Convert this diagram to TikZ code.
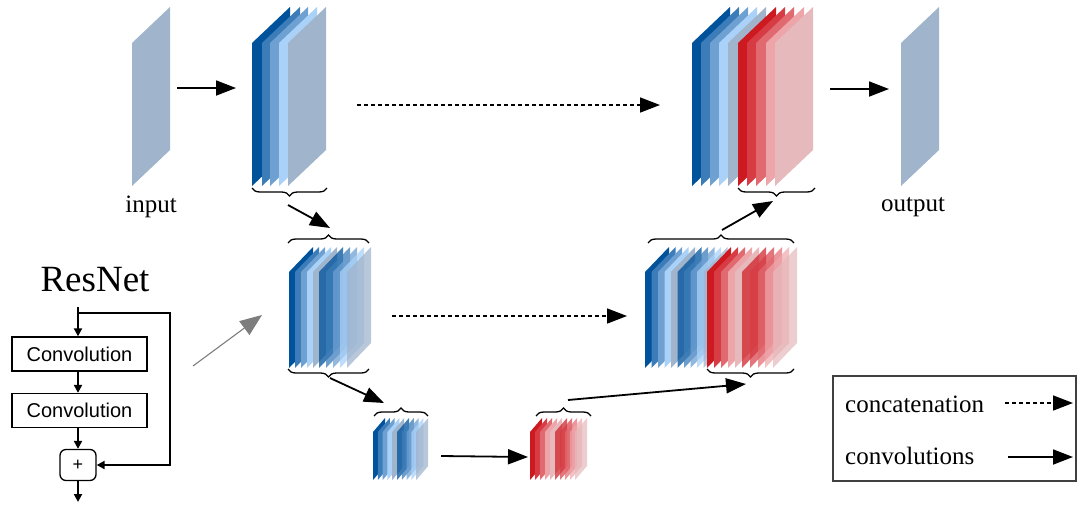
\documentclass[tikz,border=0pt]{standalone}
\usepackage{fontspec}
\setmainfont{Liberation Serif}
\newfontfamily\arialf{Liberation Sans}
\usetikzlibrary{arrows.meta,decorations.pathreplacing}
\definecolor{b1}{RGB}{0,82,155}
\definecolor{b2}{RGB}{60,125,185}
\definecolor{b3}{RGB}{110,160,210}
\definecolor{b4}{RGB}{170,210,248}
\definecolor{gb}{RGB}{160,180,204}
\definecolor{r1}{RGB}{205,25,32}
\definecolor{r2}{RGB}{215,60,68}
\definecolor{r3}{RGB}{225,105,112}
\definecolor{r4}{RGB}{238,165,170}
\definecolor{r5}{RGB}{230,185,188}
\definecolor{arrgrey}{RGB}{125,125,125}
\newcommand{\slab}[7]{\fill[fill=#6,fill opacity=#7] (#1,#2) -- ++(0,-#5) -- ++(#3,-#4) -- ++(0,#5) -- cycle;}
\tikzset{
  conv/.style={line width=1.8pt,-{Triangle[length=20pt,width=15pt]}},
  concat/.style={line width=1.6pt,dash pattern=on 4pt off 3pt,-{Triangle[length=20pt,width=15pt]}},
  brc/.style={decorate,decoration={brace,amplitude=8pt},line width=1.3pt},
  brcm/.style={decorate,decoration={brace,amplitude=8pt,mirror},line width=1.3pt},
  resline/.style={line width=2.6pt,-{Triangle[length=8pt,width=8pt]}},
  convbox/.style={draw,line width=1.3pt,minimum width=135pt,minimum height=34pt,inner sep=0pt,font=\arialf\fontsize{20}{22}\selectfont},
  lbl/.style={font=\fontsize{25}{29}\selectfont},
  leg/.style={font=\fontsize{25}{29}\selectfont,anchor=west,inner sep=0pt}
}
\begin{document}
\begin{tikzpicture}[x=1pt,y=-1pt]
\path[use as bounding box] (0,0) rectangle (1081,504);
% input / output slices
\slab{132}{186}{38}{36}{143}{gb}{1}
\slab{901}{186}{38}{36}{143}{gb}{1}
\node[lbl] (input) at (151,207) {input};
\node[lbl] (output) at (913,207) {output};
% encoder level 1
\foreach \xx/\cc in {252/b1,262/b2,270/b3,279/b4,288/gb} {\slab{\xx}{186}{38}{36}{143}{\cc}{1}}
% decoder level 1
\foreach \xx/\cc in {692/b1,701/b2,710/b3,719/b4,728/gb,738/r1,747/r2,756/r3,766/r4,775/r5} {\slab{\xx}{186}{38}{36}{143}{\cc}{1}}
% encoder level 2
\foreach \xx/\cc/\op in {289/b1/1,295/b2/1,301/b3/1,307/b4/1,313/gb/1,319/b1/.75,326/b2/.75,333/b3/.75,340/b4/.75,347/gb/.75} {\slab{\xx}{368}{24}{25}{96}{\cc}{\op}}
% decoder level 2
\foreach \xx/\cc/\op in {645/b1/1,651.5/b2/1,658/b3/1,664.5/b4/1,671/gb/1,677.5/b1/.75,684/b2/.75,690.5/b3/.75,697/b4/.75,703.5/gb/.75,
  707/r1/1,714/r2/1,721/r3/1,728/r4/1,735/r5/1,742/r1/.7,750/r2/.7,758/r3/.7,765/r4/.7,773/r5/.7} {\slab{\xx}{368}{24}{25}{96}{\cc}{\op}}
% level 3
\foreach \xx/\cc/\op in {373/b1/1,377.8/b2/1,382.6/b3/1,387.4/b4/1,392.2/gb/1,397/b1/.75,401.8/b2/.75,406.6/b3/.75,411.4/b4/.75,416.2/gb/.75} {\slab{\xx}{480}{12}{14}{48}{\cc}{\op}}
\foreach \xx/\cc/\op in {530/r1/1,535/r2/1,540/r3/1,545/r4/1,550/r5/1,555/r1/.7,560/r2/.7,565/r3/.7,570/r4/.7,575/r5/.7} {\slab{\xx}{480}{12}{14}{48}{\cc}{\op}}
% braces
\draw[brcm] (252,188) -- (327,188);
\draw[brcm] (738,188) -- (815,188);
\draw[brc] (288,243) -- (369,243);
\draw[brcm] (288,369) -- (369,369);
\draw[brc] (648,243) -- (794,243);
\draw[brcm] (707,369) -- (794,369);
\draw[brc] (374,416) -- (428,416);
\draw[brc] (536,416) -- (591,416);
% connector end points
\coordinate (inA) at (177,88);   \coordinate (e1A) at (236,88);
\coordinate (e1B) at (288,205);  \coordinate (e2A) at (330,228);
\coordinate (e2B) at (330,378);  \coordinate (e3A) at (384,403);
\coordinate (e3B) at (441,456);  \coordinate (r3A) at (528,457);
\coordinate (r3B) at (568,400);  \coordinate (d2A) at (746,384);
\coordinate (d2B) at (722,230);  \coordinate (d1A) at (773,201);
\coordinate (d1B) at (830,89);   \coordinate (outA) at (889,89);
\coordinate (c1B) at (357,105);  \coordinate (c1A) at (660,105);
\coordinate (c2B) at (392,316);  \coordinate (c2A) at (627,316);
\draw[conv] (inA) -- (e1A);
\draw[conv] (e1B) -- (e2A);
\draw[conv] (e2B) -- (e3A);
\draw[conv] (e3B) -- (r3A);
\draw[conv] (r3B) -- (d2A);
\draw[conv] (d2B) -- (d1A);
\draw[conv] (d1B) -- (outA);
\draw[concat] (c1B) -- (c1A);
\draw[concat] (c2B) -- (c2A);
% ResNet block
\node[font=\fontsize{37}{43}\selectfont] (resnet) at (95,280) {ResNet};
\node[convbox] (cv1) at (79.5,354) {Convolution};
\node[convbox] (cv2) at (79.5,410.5) {Convolution};
\node[draw,line width=1.3pt,rounded corners=6pt,minimum width=36pt,minimum height=31pt,inner sep=0pt,font=\arialf\fontsize{18}{20}\selectfont] (plus) at (78,465) {+};
\coordinate (rtop) at (78,307);
\coordinate (rsk) at (78,313);
\coordinate (rcorner) at (170,313);
\coordinate (rbot) at (78,502);
\draw[resline] (rtop) -- (rtop |- cv1.north);
\draw[resline] (cv1.south -| rtop) -- (cv2.north -| rtop);
\draw[resline] (cv2.south -| rtop) -- (plus.north);
\draw[resline] (plus.south) -- (rbot);
\draw[resline] (rsk) -- (rcorner) |- (plus.east);
\coordinate (gA) at (193,366); \coordinate (gB) at (262,315);
\draw[line width=1.1pt,arrgrey,-{Triangle[length=22pt,width=17pt]}] (gA) -- (gB);
% legend
\draw[line width=1.2pt,black!75] (833,376) rectangle (1076,481);
\node[leg] (lconcat) at (845,404) {concatenation};
\node[leg] (lconv) at (845,456) {convolutions};
\coordinate (lcA) at (1005,403); \coordinate (lcB) at (1073,403);
\coordinate (lvA) at (1008,457); \coordinate (lvB) at (1073,457);
\draw[concat] (lcA) -- (lcB);
\draw[conv] (lvA) -- (lvB);
\end{tikzpicture}
\end{document}
